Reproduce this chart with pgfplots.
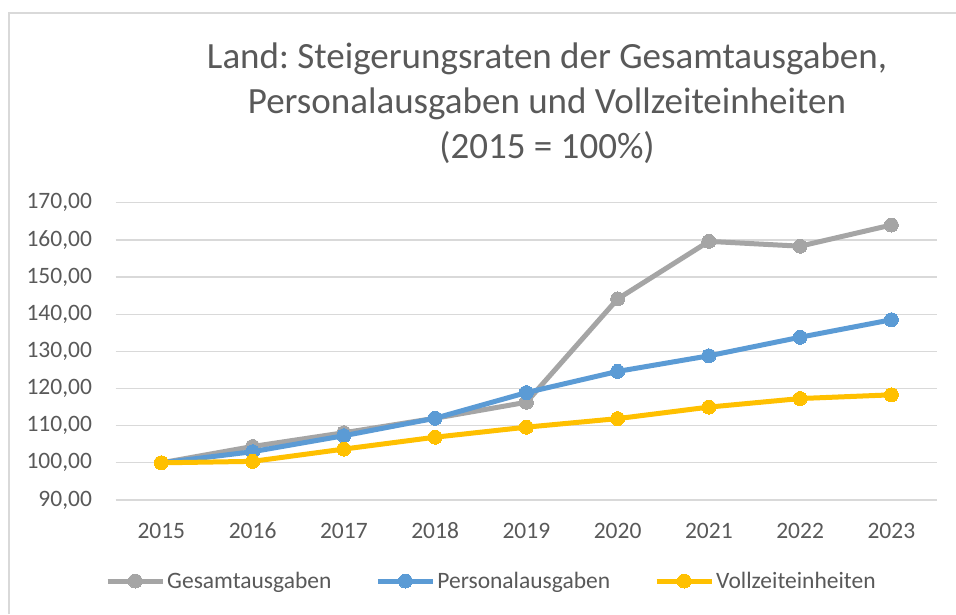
\documentclass[border=0pt]{standalone}
\usepackage{fontspec}
\setmainfont{Carlito}
\usepackage{pgfplots}
\pgfplotsset{compat=1.18}
\definecolor{txt}{HTML}{595959}
\definecolor{gridc}{HTML}{D9D9D9}
\definecolor{cg}{HTML}{A5A5A5}
\definecolor{cb}{HTML}{5B9BD5}
\definecolor{cy}{HTML}{FFC000}
\frenchspacing
\begin{document}
\begin{tikzpicture}[x=1pt,y=1pt]
\useasboundingbox (0,0) rectangle (956,614);
\fill[white] (0,0) rectangle (956,614);
\draw[gridc, line width=1.3pt] (9,0) -- (9,601) -- (956,601);
\node[txt, font=\fontsize{37}{45}\selectfont, anchor=base] at (547,545) {Land: Steigerungsraten der Gesamtausgaben,};
\node[txt, font=\fontsize{37}{45}\selectfont, anchor=base] at (547,500) {Personalausgaben und Vollzeiteinheiten};
\node[txt, font=\fontsize{37}{45}\selectfont, anchor=base] at (547,455) {(2015 = 100\%)};
\begin{axis}[
  at={(115.7pt,114pt)}, anchor=south west,
  scale only axis, width=821.3pt, height=297.3pt,
  xmin=-0.5, xmax=8.5, ymin=90, ymax=170,
  ytick={90,100,...,170},
  xtick={0,...,8},
  xticklabels={2015,2016,2017,2018,2019,2020,2021,2022,2023},
  axis line style={draw=none},
  major tick length=0pt,
  ymajorgrids,
  grid style={gridc, line width=1.3pt},
  /pgf/number format/assume math mode=true,
  yticklabel={\pgfmathprintnumber[fixed, fixed zerofill, precision=2, use comma, 1000 sep={}]{\tick}},
  yticklabel style={font=\fontsize{23.5}{28}\selectfont, text=txt, inner sep=0pt, anchor=east, xshift=-23.5pt},
  xticklabel style={font=\fontsize{23.5}{28}\selectfont, text=txt, inner sep=0pt, anchor=base, yshift=-38.5pt},
  clip=false,
  legend columns=3,
  legend image code/.code={\draw[mark repeat=2,mark phase=2,#1] plot coordinates {(0pt,0pt) (27.5pt,0pt) (55pt,0pt)};},
  legend style={at={(-0.013,-0.2725)}, anchor=west, draw=none, fill=none, inner sep=0pt,
    font=\fontsize{23.5}{28}\selectfont, text=txt,
    /tikz/every even column/.append style={column sep=42pt},
    nodes={inner sep=2pt}},
]
\addplot[cg, line width=5pt, mark=*, mark size=7pt, mark options={solid, fill=cg, draw=cg, line width=0pt}] coordinates {
(0,100) (1,104.4) (2,108.1) (3,112.0) (4,116.3) (5,144.1) (6,159.6) (7,158.3) (8,164.0)};
\addlegendentry{Gesamtausgaben}
\addplot[cb, line width=5pt, mark=*, mark size=7pt, mark options={solid, fill=cb, draw=cb, line width=0pt}] coordinates {
(0,100) (1,103.0) (2,107.3) (3,112.0) (4,118.9) (5,124.6) (6,128.8) (7,133.8) (8,138.5)};
\addlegendentry{Personalausgaben}
\addplot[cy, line width=5pt, mark=*, mark size=7pt, mark options={solid, fill=cy, draw=cy, line width=0pt}] coordinates {
(0,100) (1,100.4) (2,103.7) (3,106.9) (4,109.6) (5,111.9) (6,115.0) (7,117.3) (8,118.3)};
\addlegendentry{Vollzeiteinheiten}
\end{axis}
\end{tikzpicture}
\end{document}
